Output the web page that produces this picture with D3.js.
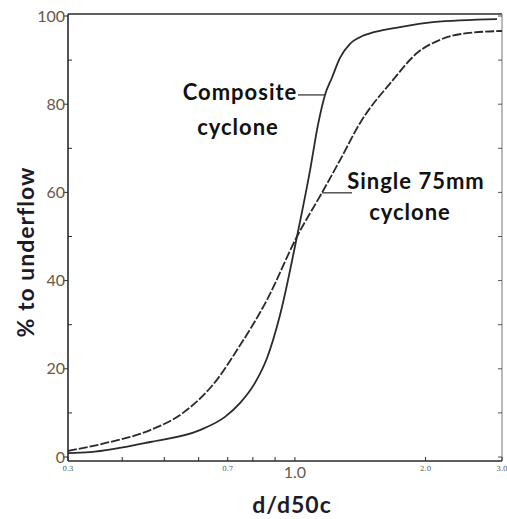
<!DOCTYPE html>
<html><head><meta charset="utf-8">
<script src="https://cdn.jsdelivr.net/npm/d3@7"></script>
<style>html,body{margin:0;padding:0;background:#fff;}</style>
</head><body>
<svg id="c" width="507" height="519"></svg>
<script>
// data
const compositeD = [0.300,0.337,0.464,0.604,0.690,0.747,0.809,0.862,0.924,1.011,1.084,1.130,1.173,1.217,1.270,1.339,1.412,1.530,1.746,2.080,2.922];
const compositeP = [0.9,1.1,3.4,6.1,9.1,12.2,16.8,22.4,32.2,50.0,65.1,75.3,82.1,86.0,90.5,93.7,95.2,96.4,97.5,98.6,99.3];
const singleD = [0.300,0.375,0.464,0.552,0.661,0.736,0.862,1.011,1.154,1.270,1.412,1.683,1.911,2.159,2.492,3.0];
const singleP = [1.4,3.4,6.1,10.0,17.5,24.3,35.6,50.0,59.9,67.3,75.7,85.5,91.6,94.6,96.1,96.6];
const yTicks = [0,20,40,60,80,100];
const yMinor = [10,30,50,70,90];
const xTicks = [0.3,0.4,0.5,0.6,0.7,0.8,0.9,1.0,2.0,3.0];
const xSmallLabels = [[0.3,"0.3"],[0.7,"0.7"],[2.0,"2.0"],[3.0,"3.0"]];

const svg = d3.select("#c");
const x = d3.scaleLog().domain([0.3,3.0]).range([68,502]);
const y = d3.scaleLinear().domain([0,100]).range([457,16]);
const ink = "#2a2a2a";
const lab = "#6a5848";
const af = "Lato, 'Open Sans', sans-serif";

// frame
const frameTop=14, frameBot=461;
svg.append("line").attr("x1",68).attr("x2",502).attr("y1",frameTop).attr("y2",frameTop).attr("stroke",ink).attr("stroke-width",1.6);
svg.append("line").attr("x1",68).attr("x2",68).attr("y1",frameTop).attr("y2",frameBot).attr("stroke",ink).attr("stroke-width",1.6);
svg.append("line").attr("x1",68).attr("x2",502).attr("y1",frameBot).attr("y2",frameBot).attr("stroke",ink).attr("stroke-width",1.6);
svg.append("line").attr("x1",502).attr("x2",502).attr("y1",frameTop).attr("y2",frameBot).attr("stroke","#777").attr("stroke-width",1);

// left ticks
yTicks.forEach(v=>{
  svg.append("line").attr("x1",63).attr("x2",68).attr("y1",y(v)).attr("y2",y(v)).attr("stroke",ink).attr("stroke-width",1);
  svg.append("text").attr("x",65).attr("y",y(v)).attr("dy","0.35em").attr("text-anchor","end")
    .attr("font-family",af).attr("font-size",16).attr("fill",lab).text(v);
});
yMinor.forEach(v=>{
  svg.append("line").attr("x1",68).attr("x2",72).attr("y1",y(v)).attr("y2",y(v)).attr("stroke",ink).attr("stroke-width",1);
});
// right ticks
yTicks.concat(yMinor).forEach(v=>{
  svg.append("line").attr("x1",498).attr("x2",502).attr("y1",y(v)).attr("y2",y(v)).attr("stroke","#555").attr("stroke-width",1);
});
// bottom ticks
xTicks.forEach(v=>{
  svg.append("line").attr("x1",x(v)).attr("x2",x(v)).attr("y1",frameBot).attr("y2",frameBot-4).attr("stroke",ink).attr("stroke-width",1);
});
xSmallLabels.forEach(([v,t])=>{
  svg.append("text").attr("x",x(v)).attr("y",471).attr("text-anchor","middle")
    .attr("font-family","'DejaVu Serif', serif").attr("font-size",7).attr("fill","#555").text(t);
});
svg.append("text").attr("x",x(1.0)).attr("y",478).attr("text-anchor","middle")
  .attr("font-family",af).attr("font-size",16).attr("fill",lab).text("1.0");

// axis titles
svg.append("text").attr("x",292).attr("y",513).attr("text-anchor","middle").attr("letter-spacing",1)
  .attr("font-family",af).attr("font-weight","bold").attr("font-size",23).attr("fill","#1c1c28").text("d/d50c");
svg.append("text").attr("transform","translate(34,252) rotate(-90)").attr("text-anchor","middle").attr("letter-spacing",1)
  .attr("font-family",af).attr("font-weight","bold").attr("font-size",23).attr("fill","#1c1c28").text("% to underflow");

// curves
const line = d3.line().x(d=>x(d[0])).y(d=>y(d[1])).curve(d3.curveMonotoneX);
svg.append("path").datum(compositeD.map((d,i)=>[d,compositeP[i]])).attr("d",line)
  .attr("fill","none").attr("stroke",ink).attr("stroke-width",1.8);
svg.append("path").datum(singleD.map((d,i)=>[d,singleP[i]])).attr("d",line)
  .attr("fill","none").attr("stroke",ink).attr("stroke-width",1.8).attr("stroke-dasharray","9,2");

// annotations
function ann(tx,ty,t){
  svg.append("text").attr("x",tx).attr("y",ty).attr("text-anchor","middle").attr("letter-spacing",1)
    .attr("font-family",af).attr("font-weight","bold").attr("font-size",22).attr("fill","#111").text(t);
}
ann(240,100,"Composite");
ann(238,135,"cyclone");
svg.append("line").attr("x1",298).attr("x2",x(1.173)).attr("y1",y(82.1)).attr("y2",y(82.1)).attr("stroke",ink).attr("stroke-width",1.2);
ann(416,189,"Single 75mm");
ann(410,220,"cyclone");
svg.append("line").attr("x1",x(1.154)).attr("x2",352).attr("y1",y(59.9)).attr("y2",y(59.9)).attr("stroke",ink).attr("stroke-width",1.2);
</script>
</body></html>
